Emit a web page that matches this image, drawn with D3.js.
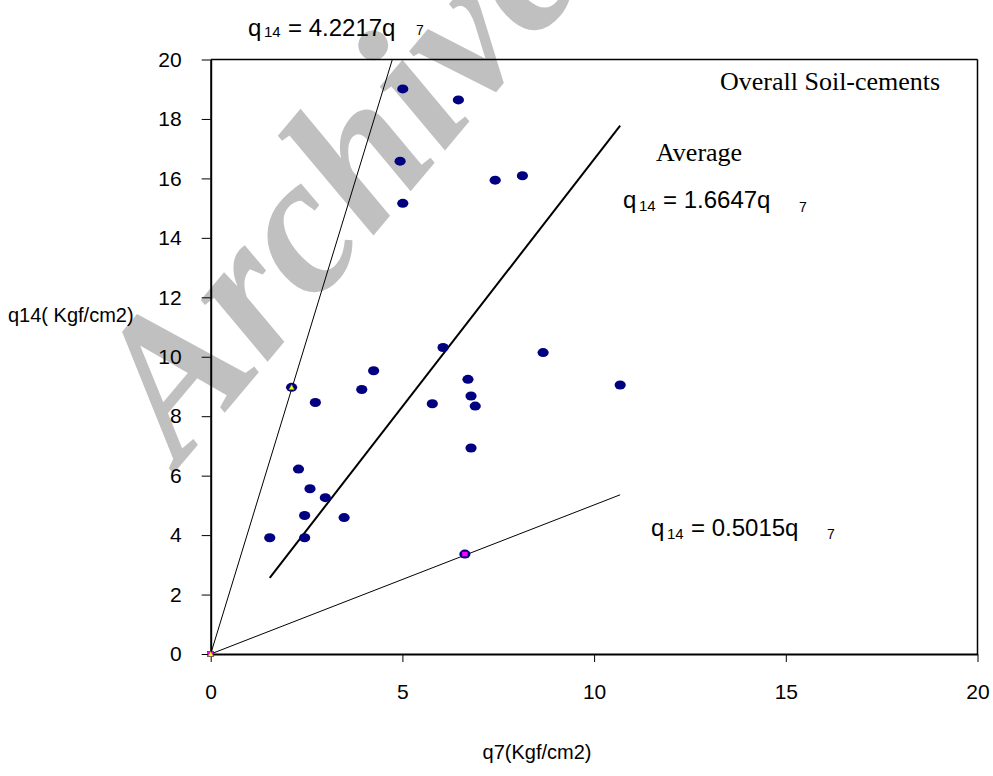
<!DOCTYPE html>
<html>
<head>
<meta charset="utf-8">
<script src="https://cdn.jsdelivr.net/npm/d3@7"></script>
<style>
  body { margin: 0; background: #fff; }
  svg { display: block; }
</style>
</head>
<body>
<svg id="chart" width="993" height="776"></svg>
<script>
// measured q7 / q14 pairs (Kgf/cm2)
const q7 = [5.01, 6.46, 4.94, 7.42, 8.13, 5.01, 6.06, 8.67, 4.25, 6.71, 10.68, 2.11, 3.94,
            6.79, 2.73, 5.78, 6.90, 6.79, 2.29, 2.59, 2.99, 2.45, 3.48, 1.54, 2.45, 6.63];
const q14 = [19.01, 18.64, 16.58, 15.94, 16.09, 15.16, 10.31, 10.14, 9.53, 9.24, 9.05, 8.97, 8.90,
             8.68, 8.46, 8.42, 8.34, 6.93, 6.22, 5.56, 5.26, 4.66, 4.59, 3.91, 3.91, 3.36];

// upper / lower bound points
const upperX = [0, 2.11], upperY = [0, 8.97];
const lowerX = [0, 6.63], lowerY = [0, 3.36];

const slopes = { upper: 4.2217, average: 1.6647, lower: 0.5015 };
const xTicks = [0, 5, 10, 15, 20];
const yTicks = [0, 2, 4, 6, 8, 10, 12, 14, 16, 18, 20];

const svg = d3.select("#chart");
const x = d3.scaleLinear().domain([0, 20]).range([210.7, 977.5]);
const y = d3.scaleLinear().domain([0, 20]).range([654, 59.5]);

// watermark
svg.append("text")
  .attr("transform", "translate(180,466) rotate(-50)")
  .attr("font-family", "Liberation Serif, Times New Roman, serif")
  .attr("font-style", "italic")
  .attr("font-weight", "bold")
  .attr("font-size", 198)
  .attr("fill", "#c0c0c0")
  .text("Archive");

// frame top / right
svg.append("line").attr("x1", x(0)).attr("x2", x(20)).attr("y1", y(20)).attr("y2", y(20))
  .attr("stroke", "#000").attr("stroke-width", 1.5);
svg.append("line").attr("x1", x(20)).attr("x2", x(20)).attr("y1", y(0)).attr("y2", y(20))
  .attr("stroke", "#000").attr("stroke-width", 1.5);

const yAxis = svg.append("g")
  .attr("transform", `translate(${x(0)},0)`)
  .call(d3.axisLeft(y).tickValues(yTicks).tickSize(9).tickSizeOuter(0).tickPadding(20));
const xAxis = svg.append("g")
  .attr("transform", `translate(0,${y(0)})`)
  .call(d3.axisBottom(x).tickValues(xTicks).tickSize(8).tickSizeOuter(0).tickPadding(22));

[xAxis, yAxis].forEach(g => {
  g.select(".domain").attr("stroke", "#000").attr("stroke-width", 2);
  g.selectAll(".tick line").attr("stroke", "#000").attr("stroke-width", 1);
  g.selectAll(".tick text")
    .attr("font-family", "Liberation Sans, Arial, sans-serif")
    .attr("font-size", 21)
    .attr("fill", "#000");
});

// regression lines
const xMin = d3.min(q7), xMax = d3.max(q7);
const lineData = [
  { pts: [[0, 0], [20 / slopes.upper, 20]], w: 1 },
  { pts: [[xMin, slopes.average * xMin], [xMax, slopes.average * xMax]], w: 2 },
  { pts: [[0, 0], [xMax, slopes.lower * xMax]], w: 1 }
];
const line = d3.line().x(d => x(d[0])).y(d => y(d[1]));
svg.selectAll(".reg")
  .data(lineData)
  .enter()
  .append("path")
  .attr("class", "reg")
  .attr("d", d => line(d.pts))
  .attr("fill", "none")
  .attr("stroke", "#000")
  .attr("stroke-width", d => d.w);

// data points
svg.selectAll(".pt")
  .data(q7.map((v, i) => [v, q14[i]]))
  .enter()
  .append("ellipse")
  .attr("class", "pt")
  .attr("cx", d => x(d[0]))
  .attr("cy", d => y(d[1]))
  .attr("rx", 5.6)
  .attr("ry", 4.5)
  .attr("fill", "#000080");

// upper bound markers (yellow triangles)
svg.selectAll(".tri")
  .data(upperX.map((v, i) => [v, upperY[i]]))
  .enter()
  .append("path")
  .attr("class", "tri")
  .attr("transform", d => `translate(${x(d[0])},${y(d[1])})`)
  .attr("d", "M0,-3L3,2.5L-3,2.5Z")
  .attr("fill", "#ffff00")
  .attr("stroke", "#333")
  .attr("stroke-width", 0.5);

// lower bound markers (magenta squares)
svg.selectAll(".sq")
  .data(lowerX.map((v, i) => [v, lowerY[i]]))
  .enter()
  .append("rect")
  .attr("class", "sq")
  .attr("x", d => x(d[0]) - 3)
  .attr("y", d => y(d[1]) - 2.5)
  .attr("width", 6)
  .attr("height", 5)
  .attr("fill", "#ff00ff")
  .attr("stroke", "#000080")
  .attr("stroke-width", 0.5);
svg.select(".tri").raise();

// equation labels
function equation(xq, yb, subY, coef, x7, y7) {
  const g = svg.append("g")
    .attr("font-family", "Liberation Sans, Arial, sans-serif")
    .attr("fill", "#000");
  g.append("text").attr("x", xq).attr("y", yb).attr("font-size", 24).text("q");
  g.append("text").attr("x", xq + 16).attr("y", subY).attr("font-size", 15).text("14");
  g.append("text").attr("x", xq + 40).attr("y", yb).attr("font-size", 24).text("= " + coef + "q");
  g.append("text").attr("x", x7).attr("y", y7).attr("font-size", 14).text("7");
}
equation(248, 36, 37, "4.2217", 416, 35);
equation(623, 208, 211, "1.6647", 799, 212);
equation(651, 536, 539, "0.5015", 827, 539);

svg.append("text")
  .attr("x", 720).attr("y", 90)
  .attr("font-family", "Liberation Serif, Times New Roman, serif")
  .attr("font-size", 26)
  .text("Overall Soil-cements");
svg.append("text")
  .attr("x", 656).attr("y", 161)
  .attr("font-family", "Liberation Serif, Times New Roman, serif")
  .attr("font-size", 26)
  .text("Average");

// axis titles
svg.append("text")
  .attr("x", 8).attr("y", 322)
  .attr("font-family", "Liberation Sans, Arial, sans-serif")
  .attr("font-size", 20)
  .text("q14( Kgf/cm2)");
svg.append("text")
  .attr("x", 537).attr("y", 759)
  .attr("text-anchor", "middle")
  .attr("font-family", "Liberation Sans, Arial, sans-serif")
  .attr("font-size", 20)
  .text("q7(Kgf/cm2)");
</script>
</body>
</html>
